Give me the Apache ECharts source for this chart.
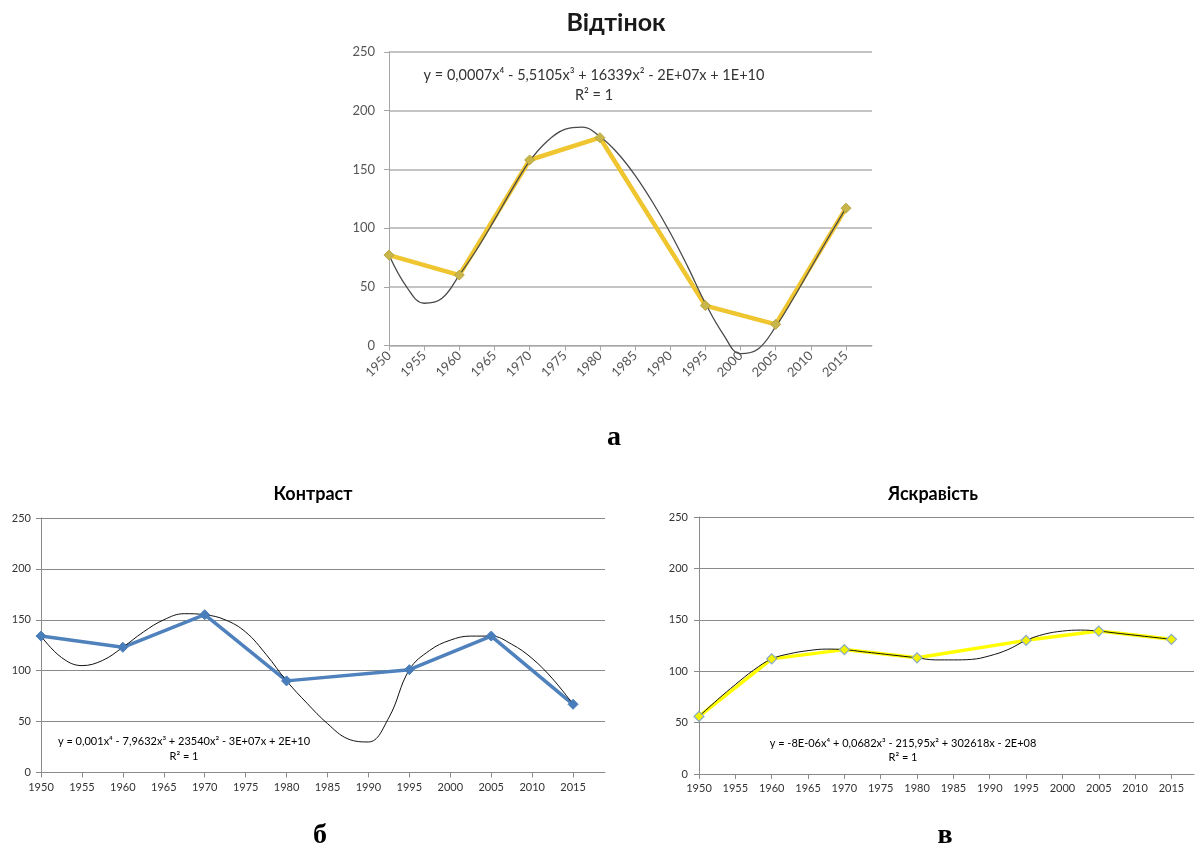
<!DOCTYPE html>
<html>
<head>
<meta charset="utf-8">
<script src="https://cdn.jsdelivr.net/npm/echarts@6/dist/echarts.min.js"></script>
<style>
  html, body { margin: 0; padding: 0; background: #ffffff; }
  #chart { width: 1195px; height: 854px; }
</style>
</head>
<body>
<div id="chart"></div>
<script>
// Measurement years and values for the three parameters
const years = [1950, 1960, 1970, 1980, 1995, 2005, 2015];
const hueValues = [77, 60, 158, 177, 34, 18, 117];
const contrastValues = [134, 123, 155, 90, 101, 134, 67];
const brightnessValues = [56, 112, 121, 113, 130, 139, 131];

// 4th-order polynomial trend curves, sampled every 2.5 years
const trendYears = [1950, 1952.5, 1955, 1957.5, 1960, 1962.5, 1965, 1967.5, 1970, 1972.5,
  1975, 1977.5, 1980, 1982.5, 1985, 1987.5, 1990, 1992.5, 1995, 1997.5, 2000, 2002.5,
  2005, 2007.5, 2010, 2012.5, 2015];
const hueTrend = [77, 50, 36, 40, 60, 82, 107, 133, 157, 174, 184, 186, 178, 164, 145, 122,
  96, 67, 36, 10, -7, -3, 16, 40, 66, 92, 117];
const contrastTrend = [134, 113, 105, 110, 123, 138, 150, 156, 155, 150, 138, 116, 90, 68,
  48, 33, 30, 54, 101, 120, 130, 134, 134, 126, 112, 92, 67];
const brightnessTrend = [56, 72, 87, 101, 112, 117, 120, 121.5, 121, 119, 117, 115, 113, 111,
  111, 111.5, 115, 121, 130, 136, 139, 140, 139, 137, 135, 133, 131];

// Axis ticks
const xTicks = [1950, 1955, 1960, 1965, 1970, 1975, 1980, 1985, 1990, 1995, 2000, 2005, 2010, 2015];
const yMin = 0, yMax = 250, yStep = 50;

// Trend equations
const hueEquation = 'y = 0,0007x⁴ - 5,5105x³ + 16339x² - 2E+07x + 1E+10';
const contrastEquation = 'y = 0,001x⁴ - 7,9632x³ + 23540x² - 3E+07x + 2E+10';
const brightnessEquation = 'y = -8E-06x⁴ + 0,0682x³ - 215,95x² + 302618x - 2E+08';
const rSquared = 'R² = 1';

const pairs = (xs, ys) => xs.map((x, i) => [x, ys[i]]);

const FONT = 'Lato, "Liberation Sans", sans-serif';

function xAxisCfg(gridIndex, max, opts) {
  return {
    type: 'value', gridIndex, min: 1950, max, interval: 5,
    axisLine: { show: true, lineStyle: { color: opts.axisColor, width: 1 } },
    axisTick: { show: true, length: 5, customValues: xTicks, lineStyle: { color: opts.axisColor } },
    axisLabel: {
      customValues: xTicks, rotate: opts.rotate || 0, margin: opts.margin,
      color: opts.labelColor, fontSize: opts.fontSize, fontFamily: FONT,
      formatter: v => String(v)
    },
    splitLine: { show: false }
  };
}

function yAxisCfg(gridIndex, opts) {
  return {
    type: 'value', gridIndex, min: yMin, max: yMax, interval: yStep,
    axisLine: { show: true, lineStyle: { color: opts.axisColor, width: 1 } },
    axisTick: { show: true, length: 5, lineStyle: { color: opts.axisColor } },
    axisLabel: { margin: opts.margin, color: opts.labelColor, fontSize: opts.fontSize, fontFamily: FONT },
    splitLine: { show: true, lineStyle: { color: opts.gridColor, width: opts.gridWidth || 1 } }
  };
}

const topStyle = { axisColor: '#a6a6a6', gridColor: '#b0b0b0', gridWidth: 1.5, labelColor: '#555555', fontSize: 13, margin: 14 };
const botStyle = { axisColor: '#8a8a8a', gridColor: '#8a8a8a', labelColor: '#333333', fontSize: 11, margin: 10 };

function textEl(text, x, y, font, fill) {
  return { type: 'text', x, y, z: 100,
    style: { text, font, fill: fill || '#000', align: 'center', verticalAlign: 'middle' } };
}

const chart = echarts.init(document.getElementById('chart'), null, { renderer: 'canvas' });

chart.setOption({
  backgroundColor: '#ffffff',
  animation: false,
  grid: [
    { left: 389, top: 52, width: 483, height: 293.5 },
    { left: 41, top: 518, width: 564, height: 254.5 },
    { left: 699, top: 517, width: 495, height: 257 }
  ],
  xAxis: [
    xAxisCfg(0, 2018.7, Object.assign({}, topStyle, { rotate: 45, fontSize: 13, margin: 8 })),
    xAxisCfg(1, 2018.9, Object.assign({}, botStyle, { margin: 9 })),
    xAxisCfg(2, 2018.1, Object.assign({}, botStyle, { margin: 9 }))
  ],
  yAxis: [
    yAxisCfg(0, topStyle),
    yAxisCfg(1, botStyle),
    yAxisCfg(2, Object.assign({}, botStyle, { margin: 11 }))
  ],
  series: [
    {
      name: 'Відтінок', type: 'line', xAxisIndex: 0, yAxisIndex: 0,
      data: pairs(years, hueValues),
      lineStyle: { color: '#efc530', width: 4.5 },
      symbol: 'diamond', symbolSize: 10,
      itemStyle: { color: '#c9b64a', borderColor: '#b9a540', borderWidth: 1 }
    },
    {
      name: 'Відтінок тренд', type: 'line', xAxisIndex: 0, yAxisIndex: 0,
      data: pairs(trendYears, hueTrend), smooth: 0.4, clip: false,
      showSymbol: false, symbol: 'none',
      lineStyle: { color: '#4a4a4a', width: 1.3 }
    },
    {
      name: 'Контраст', type: 'line', xAxisIndex: 1, yAxisIndex: 1,
      data: pairs(years, contrastValues),
      lineStyle: { color: '#4f81bd', width: 3.5 },
      symbol: 'diamond', symbolSize: 10,
      itemStyle: { color: '#4a7ebb', borderColor: '#4a7ebb', borderWidth: 1 }
    },
    {
      name: 'Контраст тренд', type: 'line', xAxisIndex: 1, yAxisIndex: 1,
      data: pairs(trendYears, contrastTrend), smooth: 0.4, clip: false,
      showSymbol: false, symbol: 'none',
      lineStyle: { color: '#111111', width: 1 }
    },
    {
      name: 'Яскравість', type: 'line', xAxisIndex: 2, yAxisIndex: 2,
      data: pairs(years, brightnessValues),
      lineStyle: { color: '#ffff00', width: 3.5 },
      symbol: 'diamond', symbolSize: 10,
      itemStyle: { color: '#f2f200', borderColor: '#8aa9c6', borderWidth: 1.2 }
    },
    {
      name: 'Яскравість тренд', type: 'line', xAxisIndex: 2, yAxisIndex: 2,
      data: pairs(trendYears, brightnessTrend), smooth: 0.4, clip: false,
      showSymbol: false, symbol: 'none',
      lineStyle: { color: '#111111', width: 1 }
    }
  ],
  graphic: [
    textEl('Відтінок', 616, 23, 'bold 25px ' + FONT, '#1a1a1a'),
    textEl('Контраст', 313, 494, 'bold 18px ' + FONT, '#000000'),
    textEl('Яскравість', 933, 494, 'bold 18px ' + FONT, '#000000'),
    textEl(hueEquation, 594, 75, '14.5px ' + FONT, '#333333'),
    textEl(rSquared, 594, 95, '14.5px ' + FONT, '#333333'),
    textEl(contrastEquation, 184, 741, '11px ' + FONT, '#000000'),
    textEl(rSquared, 184, 756, '11px ' + FONT, '#000000'),
    textEl(brightnessEquation, 903, 743, '11px ' + FONT, '#000000'),
    textEl(rSquared, 903, 757, '11px ' + FONT, '#000000'),
    textEl('а', 614, 438, 'bold 28px "Liberation Serif", serif', '#000000'),
    textEl('б', 320, 836, 'bold 28px "Liberation Serif", serif', '#000000'),
    textEl('в', 945, 836, 'bold 28px "Liberation Serif", serif', '#000000')
  ]
});
</script>
</body>
</html>
